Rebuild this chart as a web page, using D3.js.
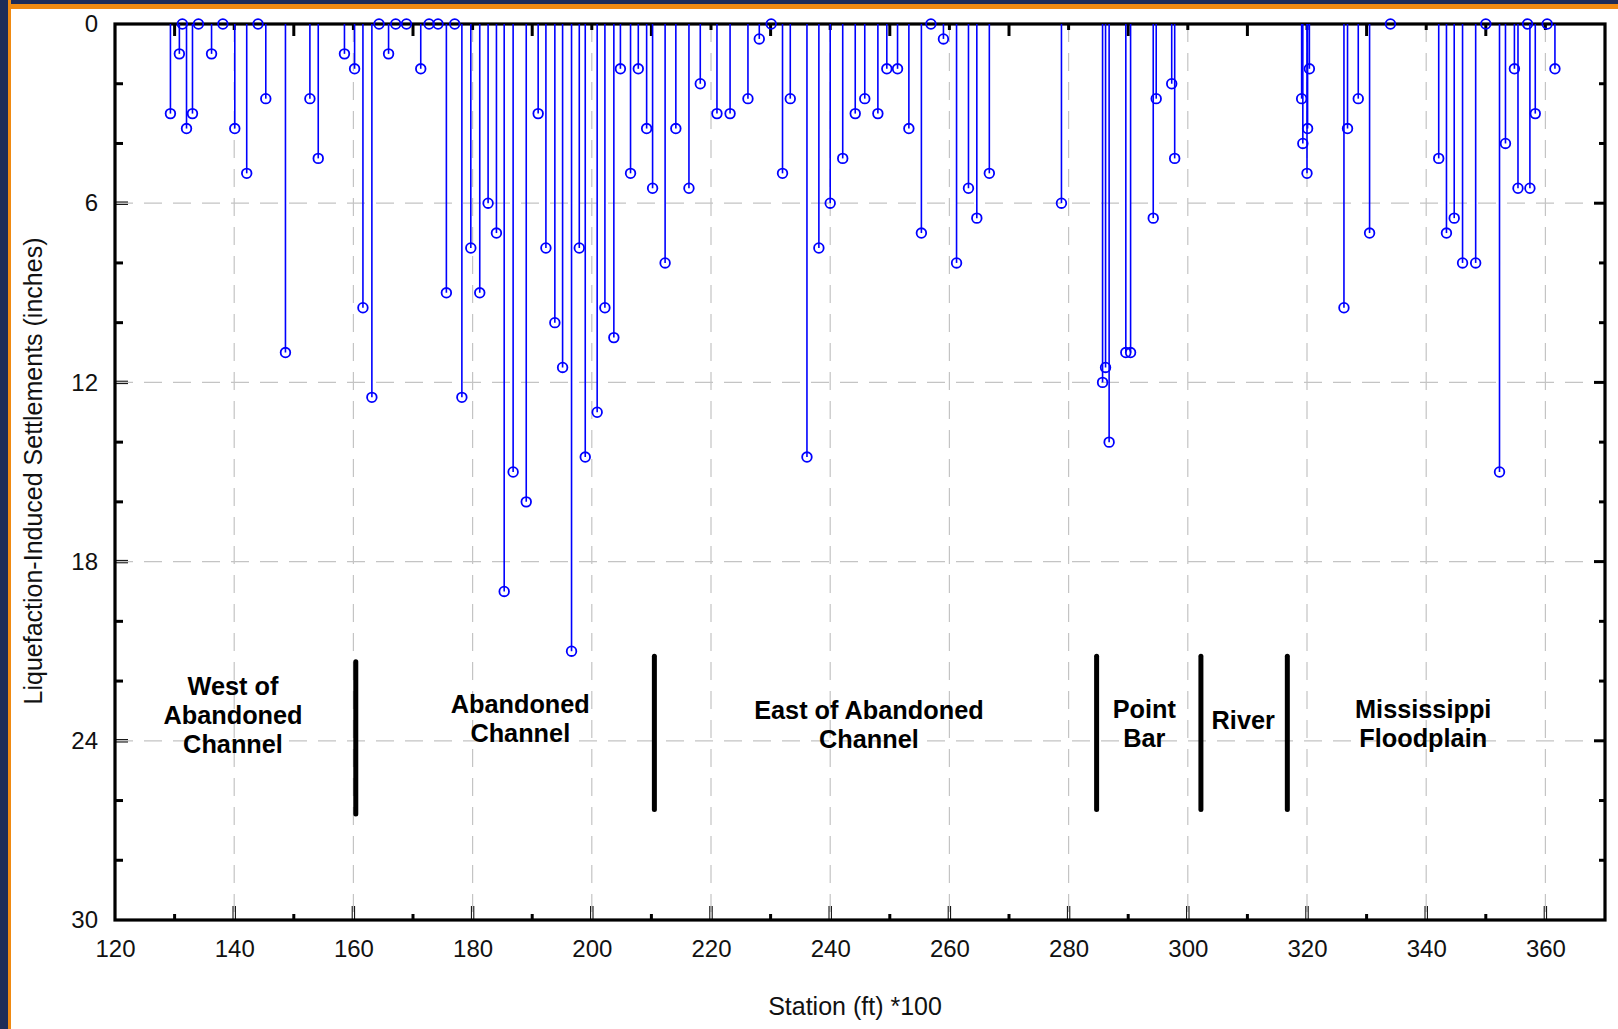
<!DOCTYPE html>
<html>
<head>
<meta charset="utf-8">
<script src="https://cdn.jsdelivr.net/npm/d3@7"></script>
<style>
  html, body { margin: 0; padding: 0; background: #ffffff; }
  svg { display: block; }
  text { font-family: "Liberation Sans", Arial, Helvetica, sans-serif; }
</style>
</head>
<body>
<svg id="chart" width="1618" height="1029"></svg>
<script>
// Boring stations along the alignment (ft / 100)
const station = [
  129.3, 130.8, 131.3, 132.0, 133.0, 134.0, 136.2, 138.1, 140.1, 142.1,
  144.0, 145.3, 148.6, 152.7, 154.1, 158.5, 160.2, 161.6, 163.1, 164.3,
  165.9, 167.1, 168.9, 171.3, 172.7, 174.2, 175.6, 177.0, 178.2, 179.7,
  181.2, 182.6, 184.0, 185.3, 186.8, 189.0, 191.0, 192.3, 193.8, 195.1,
  196.6, 197.9, 198.9, 200.9, 202.2, 203.7, 204.8, 206.5, 207.8, 209.2,
  210.2, 212.3, 214.1, 216.3, 218.2, 221.0, 223.2, 226.2, 228.1, 230.1,
  232.0, 233.3, 236.1, 238.1, 240.0, 242.1, 244.2, 245.8, 248.0, 249.5,
  251.3, 253.2, 255.3, 256.9, 259.0, 261.2, 263.2, 264.6, 266.7, 278.8,
  285.7, 286.2, 286.8, 289.6, 290.4, 294.2, 294.7, 297.3, 297.8, 319.1,
  319.3, 320.0, 320.1, 320.4, 326.2, 326.8, 328.6, 330.5, 334.0, 342.1,
  343.4, 344.7, 346.1, 348.3, 350.0, 352.3, 353.3, 354.8, 355.4, 357.0,
  357.4, 358.3, 360.3, 361.6
];

// Liquefaction-induced settlement at each station (inches)
const settlement = [
  3.0, 1.0, 0.0, 3.5, 3.0, 0.0, 1.0, 0.0, 3.5, 5.0,
  0.0, 2.5, 11.0, 2.5, 4.5, 1.0, 1.5, 9.5, 12.5, 0.0,
  1.0, 0.0, 0.0, 1.5, 0.0, 0.0, 9.0, 0.0, 12.5, 7.5,
  9.0, 6.0, 7.0, 19.0, 15.0, 16.0, 3.0, 7.5, 10.0, 11.5,
  21.0, 7.5, 14.5, 13.0, 9.5, 10.5, 1.5, 5.0, 1.5, 3.5,
  5.5, 8.0, 3.5, 5.5, 2.0, 3.0, 3.0, 2.5, 0.5, 0.0,
  5.0, 2.5, 14.5, 7.5, 6.0, 4.5, 3.0, 2.5, 3.0, 1.5,
  1.5, 3.5, 7.0, 0.0, 0.5, 8.0, 5.5, 6.5, 5.0, 6.0,
  12.0, 11.5, 14.0, 11.0, 11.0, 6.5, 2.5, 2.0, 4.5, 2.5,
  4.0, 5.0, 3.5, 1.5, 9.5, 3.5, 2.5, 7.0, 0.0, 4.5,
  7.0, 6.5, 8.0, 8.0, 0.0, 15.0, 4.0, 1.5, 5.5, 0.0,
  5.5, 3.0, 0.0, 1.5
];

// Axis ticks
const xTicks = [120, 140, 160, 180, 200, 220, 240, 260, 280, 300, 320, 340, 360];
const xMinorTicks = [130, 150, 170, 190, 210, 230, 250, 270, 290, 310, 330, 350];
const yTicks = [0, 6, 12, 18, 24, 30];
const yMinorTicks = [2, 4, 8, 10, 14, 16, 20, 22, 26, 28];

// Geologic zone boundaries (station) and zone names
const zoneBoundaries = [160.4, 210.5, 284.7, 302.2, 316.7];
const zoneNames = [
  ["West of", "Abandoned", "Channel"],
  ["Abandoned", "Channel"],
  ["East of Abandoned", "Channel"],
  ["Point", "Bar"],
  ["River"],
  ["Mississippi", "Floodplain"]
];

// Layout for the zone annotations (station of label centre, depth of first baseline)
const zoneLabelAt = [
  { x: 139.8, y: 22.47 },
  { x: 188.0, y: 23.07 },
  { x: 246.5, y: 23.27 },
  { x: 292.7, y: 23.23 },
  { x: 309.3, y: 23.6 },
  { x: 339.5, y: 23.23 }
];
const boundarySpan = [
  [21.35, 26.45], [21.17, 26.3], [21.17, 26.3], [21.17, 26.3], [21.17, 26.3]
];

const svg = d3.select("#chart");
const W = 1618, H = 1029;
const plot = { left: 115, right: 1605, top: 24, bottom: 920 };

svg.append("rect").attr("width", W).attr("height", H).attr("fill", "#ffffff");

// Slide frame along the top and left edges
svg.append("rect").attr("x", 0).attr("y", 0).attr("width", W).attr("height", 9).attr("fill", "#f08a12");
svg.append("rect").attr("x", 0).attr("y", 0).attr("width", W).attr("height", 4).attr("fill", "#1e2c58");
svg.append("rect").attr("x", 0).attr("y", 0).attr("width", 11).attr("height", H).attr("fill", "#f08a12");
svg.append("rect").attr("x", 0).attr("y", 0).attr("width", 8).attr("height", H).attr("fill", "#1e2c58");

const x = d3.scaleLinear().domain([120, 370]).range([plot.left, plot.right]);
const y = d3.scaleLinear().domain([0, 30]).range([plot.top, plot.bottom]);

// Dashed grid
const grid = svg.append("g").attr("stroke", "#c4c4c4").attr("stroke-width", 1.2)
  .attr("stroke-dasharray", "18,11").attr("fill", "none");
grid.selectAll("line.v").data(xTicks.filter(v => v > 120)).join("line")
  .attr("class", "v")
  .attr("x1", d => x(d)).attr("x2", d => x(d))
  .attr("y1", plot.top).attr("y2", plot.bottom);
grid.selectAll("line.h").data(yTicks.filter(v => v > 0 && v < 30)).join("line")
  .attr("class", "h")
  .attr("x1", plot.left).attr("x2", plot.right)
  .attr("y1", d => y(d)).attr("y2", d => y(d));

// Tick labels via d3 axes
const fontSize = 24;
const xAxis = svg.append("g").attr("transform", `translate(0,${plot.bottom})`)
  .call(d3.axisBottom(x).tickValues(xTicks).tickSize(0).tickPadding(20).tickFormat(d3.format("d")));
xAxis.select(".domain").remove();
xAxis.selectAll("text").attr("font-size", fontSize).attr("fill", "#111")
  .attr("font-family", "'Liberation Sans', Arial, sans-serif");

const yAxis = svg.append("g").attr("transform", `translate(${plot.left},0)`)
  .call(d3.axisLeft(y).tickValues(yTicks).tickSize(0).tickPadding(17).tickFormat(d3.format("d")));
yAxis.select(".domain").remove();
yAxis.selectAll("text").attr("font-size", fontSize).attr("fill", "#111")
  .attr("font-family", "'Liberation Sans', Arial, sans-serif");

// Tick marks, drawn inward
const ticks = svg.append("g").attr("stroke", "#000");
// bottom
xTicks.filter(v => v > 120).forEach(v => {
  [-1.2, 1.2].forEach(o => ticks.append("line")
    .attr("x1", x(v) + o).attr("x2", x(v) + o)
    .attr("y1", plot.bottom).attr("y2", plot.bottom - 14).attr("stroke-width", 1));
});
xMinorTicks.forEach(v => ticks.append("line")
  .attr("x1", x(v)).attr("x2", x(v))
  .attr("y1", plot.bottom).attr("y2", plot.bottom - 6).attr("stroke-width", 3));
// top
xMinorTicks.forEach(v => ticks.append("line")
  .attr("x1", x(v)).attr("x2", x(v))
  .attr("y1", plot.top).attr("y2", plot.top + 12).attr("stroke-width", 3));
xTicks.filter(v => v > 120).forEach(v => ticks.append("line")
  .attr("x1", x(v)).attr("x2", x(v))
  .attr("y1", plot.top).attr("y2", plot.top + 6).attr("stroke-width", 3));
// left
yTicks.filter(v => v > 0 && v < 30).forEach(v => {
  [-1.2, 1.2].forEach(o => ticks.append("line")
    .attr("x1", plot.left).attr("x2", plot.left + 13)
    .attr("y1", y(v) + o).attr("y2", y(v) + o).attr("stroke-width", 1));
});
yMinorTicks.forEach(v => ticks.append("line")
  .attr("x1", plot.left).attr("x2", plot.left + 8)
  .attr("y1", y(v)).attr("y2", y(v)).attr("stroke-width", 3));
// right
yTicks.filter(v => v > 0 && v < 30).forEach(v => ticks.append("line")
  .attr("x1", plot.right).attr("x2", plot.right - 11)
  .attr("y1", y(v)).attr("y2", y(v)).attr("stroke-width", 3));
yMinorTicks.forEach(v => ticks.append("line")
  .attr("x1", plot.right).attr("x2", plot.right - 6)
  .attr("y1", y(v)).attr("y2", y(v)).attr("stroke-width", 3));

// Plot frame
svg.append("rect")
  .attr("x", plot.left).attr("y", plot.top)
  .attr("width", plot.right - plot.left).attr("height", plot.bottom - plot.top)
  .attr("fill", "none").attr("stroke", "#000").attr("stroke-width", 3.2);

// Zone boundaries
svg.append("g").selectAll("line").data(zoneBoundaries).join("line")
  .attr("x1", d => x(d)).attr("x2", d => x(d))
  .attr("y1", (d, i) => y(boundarySpan[i][0])).attr("y2", (d, i) => y(boundarySpan[i][1]))
  .attr("stroke", "#000").attr("stroke-width", 5).attr("stroke-linecap", "round");

// Zone names
const lineGap = 29;
const zones = svg.append("g").attr("font-weight", "bold").attr("font-size", 25.3)
  .attr("text-anchor", "middle").attr("fill", "#000");
zoneNames.forEach((lines, i) => {
  const t = zones.append("text")
    .attr("x", x(zoneLabelAt[i].x)).attr("y", y(zoneLabelAt[i].y));
  lines.forEach((s, j) => t.append("tspan")
    .attr("x", x(zoneLabelAt[i].x)).attr("dy", j === 0 ? 0 : lineGap).text(s));
});

// Settlement stems and markers
const pts = station.map((s, i) => ({ s, v: settlement[i] }));
svg.append("g").selectAll("line").data(pts).join("line")
  .attr("x1", d => x(d.s)).attr("x2", d => x(d.s))
  .attr("y1", y(0)).attr("y2", d => y(d.v))
  .attr("stroke", "#0000ff").attr("stroke-width", 1.6);
svg.append("g").selectAll("circle").data(pts).join("circle")
  .attr("cx", d => x(d.s)).attr("cy", d => y(d.v)).attr("r", 4.8)
  .attr("fill", "none").attr("stroke", "#0000ff").attr("stroke-width", 1.8);

// Axis titles
svg.append("text")
  .attr("x", 855).attr("y", 1015)
  .attr("text-anchor", "middle").attr("font-size", 25).attr("fill", "#111")
  .text("Station (ft) *100");
svg.append("text")
  .attr("transform", "translate(42,471) rotate(-90)")
  .attr("text-anchor", "middle").attr("font-size", 25).attr("fill", "#111")
  .text("Liquefaction-Induced Settlements (inches)");
</script>
</body>
</html>
